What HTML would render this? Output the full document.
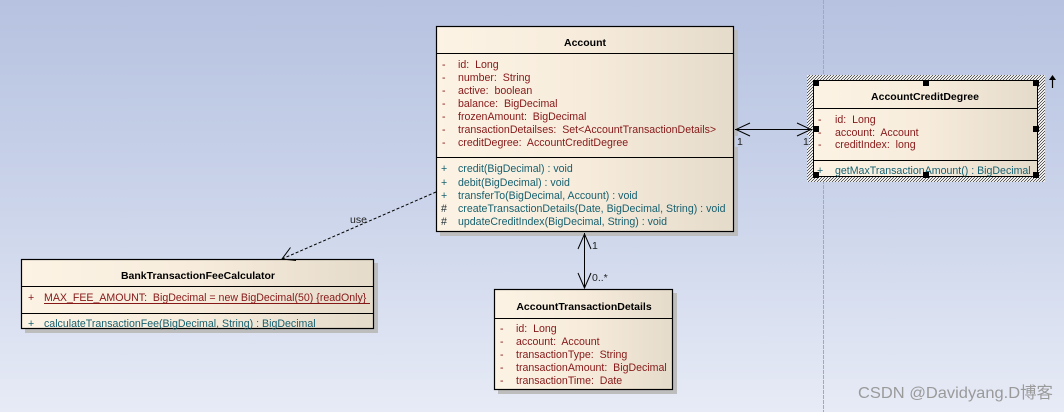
<!DOCTYPE html>
<html>
<head>
<meta charset="utf-8">
<style>
  html,body{margin:0;padding:0;width:1064px;height:412px;overflow:hidden;}
  svg{display:block;}
  text{font-family:"Liberation Sans","Noto Sans CJK SC",sans-serif;font-size:10.6px;white-space:pre;}
  .t{font-weight:bold;fill:#000;font-size:10.5px;}
  .a{fill:#861818;}
  .m{fill:#17606f;}
  .h{fill:#1a2a30;}
  .lbl{fill:#222;font-size:10.5px;}
</style>
</head>
<body>
<svg width="1064" height="412" viewBox="0 0 1064 412" xmlns="http://www.w3.org/2000/svg" xml:space="preserve">
  <defs>
    <linearGradient id="bg" x1="0" y1="0" x2="0" y2="1">
      <stop offset="0" stop-color="#b6c2e0"/>
      <stop offset="0.5" stop-color="#cbd4ea"/>
      <stop offset="1" stop-color="#e7ebf6"/>
    </linearGradient>
    <linearGradient id="box" x1="0" y1="0" x2="1" y2="0">
      <stop offset="0" stop-color="#fcf3e4"/>
      <stop offset="0.5" stop-color="#f7ecdc"/>
      <stop offset="1" stop-color="#e5dbca"/>
    </linearGradient>
    <pattern id="hatch" patternUnits="userSpaceOnUse" width="3" height="3">
      <rect width="3" height="3" fill="#ffffff"/>
      <path d="M-1,1 L1,-1 M0,3 L3,0 M2,4 L4,2" stroke="#000" stroke-width="0.6"/>
    </pattern>
  </defs>

  <!-- background -->
  <rect x="0" y="0" width="1064" height="412" fill="url(#bg)"/>
  <line x1="823.5" y1="0" x2="823.5" y2="412" stroke="#9ea6d2" stroke-width="1" stroke-dasharray="4,1"/>

  <!-- ============ Account ============ -->
  <rect x="440" y="30" width="298" height="206" fill="#bdbdbd"/>
  <rect x="436.5" y="26.5" width="297" height="205" fill="url(#box)" stroke="#000" stroke-width="1.2"/>
  <line x1="436" y1="53.5" x2="734" y2="53.5" stroke="#000" stroke-width="1"/>
  <line x1="436" y1="157.5" x2="734" y2="157.5" stroke="#000" stroke-width="1"/>
  <text class="t" x="585" y="46" text-anchor="middle">Account</text>
  <g class="a">
    <text x="442" y="68">-</text><text x="458" y="68">id:  Long</text>
    <text x="442" y="81">-</text><text x="458" y="81">number:  String</text>
    <text x="442" y="94">-</text><text x="458" y="94">active:  boolean</text>
    <text x="442" y="107">-</text><text x="458" y="107">balance:  BigDecimal</text>
    <text x="442" y="120">-</text><text x="458" y="120">frozenAmount:  BigDecimal</text>
    <text x="442" y="133">-</text><text x="458" y="133">transactionDetailses:  Set&lt;AccountTransactionDetails&gt;</text>
    <text x="442" y="146">-</text><text x="458" y="146">creditDegree:  AccountCreditDegree</text>
  </g>
  <g class="m">
    <text x="441" y="172">+</text><text x="458" y="172">credit(BigDecimal) : void</text>
    <text x="441" y="186">+</text><text x="458" y="186">debit(BigDecimal) : void</text>
    <text x="441" y="199">+</text><text x="458" y="199">transferTo(BigDecimal, Account) : void</text>
    <text x="441" y="212" class="h">#</text><text x="458" y="212">createTransactionDetails(Date, BigDecimal, String) : void</text>
    <text x="441" y="225" class="h">#</text><text x="458" y="225">updateCreditIndex(BigDecimal, String) : void</text>
  </g>

  <!-- ============ AccountCreditDegree (selected) ============ -->
  <rect x="807" y="75" width="238" height="107" fill="url(#hatch)"/>
  <rect x="813.5" y="80.5" width="224" height="96" fill="url(#box)" stroke="#000" stroke-width="1"/>
  <line x1="813" y1="108.5" x2="1038" y2="108.5" stroke="#000" stroke-width="1"/>
  <line x1="813" y1="160.5" x2="1038" y2="160.5" stroke="#000" stroke-width="1"/>
  <text class="t" x="925" y="100" text-anchor="middle">AccountCreditDegree</text>
  <g class="a">
    <text x="818" y="123">-</text><text x="835" y="123">id:  Long</text>
    <text x="818" y="136">-</text><text x="835" y="136">account:  Account</text>
    <text x="818" y="148">-</text><text x="835" y="148">creditIndex:  long</text>
  </g>
  <g class="m">
    <text x="817" y="174">+</text><text x="835" y="174">getMaxTransactionAmount() : BigDecimal</text>
  </g>
  <g fill="#000">
    <rect x="813" y="80" width="6" height="6"/>
    <rect x="923" y="80" width="6" height="6"/>
    <rect x="1033" y="80" width="6" height="6"/>
    <rect x="813" y="126" width="6" height="6"/>
    <rect x="1033" y="126" width="6" height="6"/>
    <rect x="813" y="172" width="6" height="6"/>
    <rect x="923" y="172" width="6" height="6"/>
    <rect x="1033" y="172" width="6" height="6"/>
  </g>
  <!-- small up arrow -->
  <line x1="1052.5" y1="88" x2="1052.5" y2="78" stroke="#000" stroke-width="1.2"/>
  <polygon points="1049,80 1056,80 1052.5,75" fill="#000"/>

  <!-- association Account <-> AccountCreditDegree -->
  <line x1="735" y1="129.5" x2="812" y2="129.5" stroke="#000" stroke-width="1"/>
  <path d="M750,123 L736,129.5 L750,136" fill="none" stroke="#000" stroke-width="1"/>
  <path d="M797,123 L811,129.5 L797,136" fill="none" stroke="#000" stroke-width="1"/>
  <rect x="735" y="136" width="8" height="11" fill="#c4cde6"/>
  <text class="lbl" x="737" y="145">1</text>
  <rect x="801" y="136" width="8" height="11" fill="#c4cde6"/>
  <text class="lbl" x="803" y="145">1</text>

  <!-- ============ BankTransactionFeeCalculator ============ -->
  <rect x="25" y="263" width="353" height="70" fill="#bdbdbd"/>
  <rect x="21.5" y="259.5" width="352" height="69" fill="url(#box)" stroke="#000" stroke-width="1.2"/>
  <line x1="21" y1="286.5" x2="374" y2="286.5" stroke="#000" stroke-width="1"/>
  <line x1="21" y1="313.5" x2="374" y2="313.5" stroke="#000" stroke-width="1"/>
  <text class="t" x="198" y="279" text-anchor="middle">BankTransactionFeeCalculator</text>
  <text class="a" x="28" y="301">+</text>
  <text class="a" x="44" y="301">MAX_FEE_AMOUNT:  BigDecimal = new BigDecimal(50) {readOnly}</text>
  <line x1="44" y1="303.5" x2="370" y2="303.5" stroke="#861818" stroke-width="1"/>
  <text class="m" x="28" y="327">+</text>
  <text class="m" x="44" y="327">calculateTransactionFee(BigDecimal, String) : BigDecimal</text>

  <!-- dependency use -->
  <line x1="436" y1="192" x2="283" y2="258.5" stroke="#000" stroke-width="1" stroke-dasharray="3,2"/>
  <path d="M290.5,247.5 L282,259 L296,260.5" fill="none" stroke="#000" stroke-width="1"/>
  <text class="lbl" x="350" y="223">use</text>

  <!-- ============ AccountTransactionDetails ============ -->
  <rect x="498" y="293" width="179" height="101" fill="#bdbdbd"/>
  <rect x="494.5" y="289.5" width="178" height="100" fill="url(#box)" stroke="#000" stroke-width="1.2"/>
  <line x1="494" y1="318.5" x2="673" y2="318.5" stroke="#000" stroke-width="1"/>
  <text class="t" x="584" y="310" text-anchor="middle">AccountTransactionDetails</text>
  <g class="a">
    <text x="500" y="332">-</text><text x="516" y="332">id:  Long</text>
    <text x="500" y="345">-</text><text x="516" y="345">account:  Account</text>
    <text x="500" y="358">-</text><text x="516" y="358">transactionType:  String</text>
    <text x="500" y="371">-</text><text x="516" y="371">transactionAmount:  BigDecimal</text>
    <text x="500" y="384">-</text><text x="516" y="384">transactionTime:  Date</text>
  </g>

  <!-- association Account <-> AccountTransactionDetails -->
  <line x1="584.5" y1="233" x2="584.5" y2="288" stroke="#000" stroke-width="1"/>
  <path d="M578,249 L584.5,234 L591,249" fill="none" stroke="#000" stroke-width="1"/>
  <path d="M578,273 L584.5,288 L591,273" fill="none" stroke="#000" stroke-width="1"/>
  <text class="lbl" x="592" y="249">1</text>
  <text class="lbl" x="592" y="281">0..*</text>

  <!-- watermark -->
  <text x="858" y="398" fill="#9a9a9a" textLength="195" lengthAdjust="spacingAndGlyphs" style="font-size:16px">CSDN @Davidyang.D博客</text>
</svg>
</body>
</html>
